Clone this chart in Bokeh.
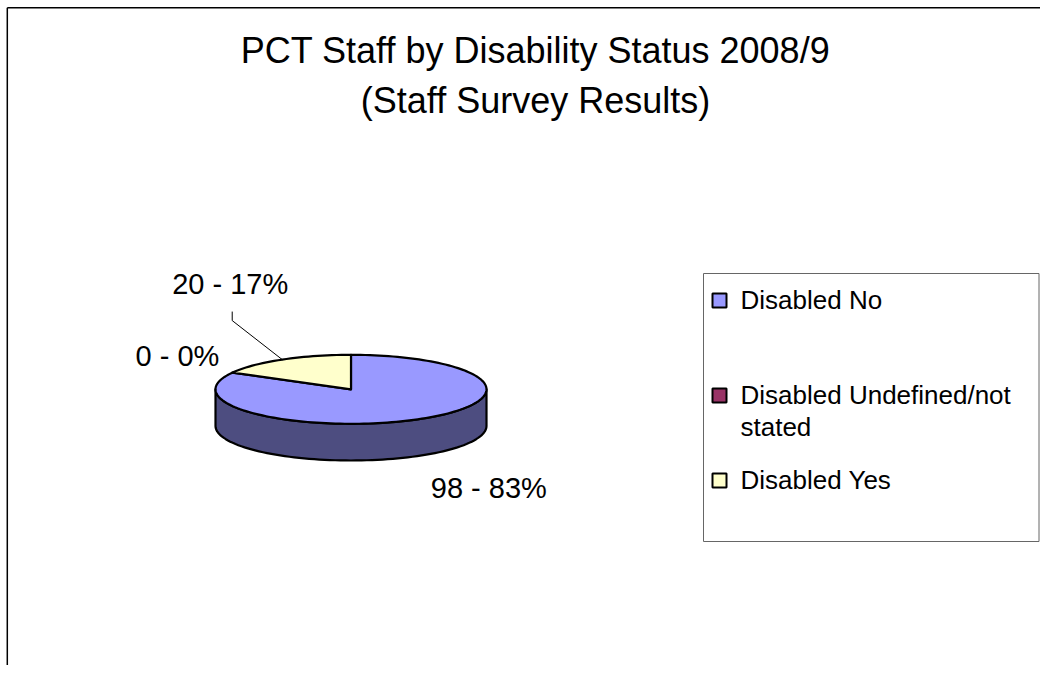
import math
import textwrap
from bokeh.plotting import figure
from bokeh.models import Range1d
from bokeh.core.properties import value
from bokeh.embed import file_html
from bokeh.resources import INLINE

# ---------------- data ----------------
categories = ["Disabled No", "Disabled Undefined/not stated", "Disabled Yes"]
values = [98, 0, 20]
title_lines = ["PCT Staff by Disability Status 2008/9", "(Staff Survey Results)"]

# ---------------- styles / layout ----------------
top_colors = ["#9999FF", "#993366", "#FFFFCC"]
side_colors = ["#4D4D80", "#4D1A33", "#808066"]
FONT = value("Liberation Sans")

W, H = 1040, 665
CX, CY = 350.5, 388.8      # pie centre (px)
RA, RB = 135.5, 34.5       # ellipse semi-axes
DEPTH = 36.7               # pie thickness
label_offsets = [(69, 69), (-55, -17), (-52, -76)]
leader = [False, False, True]
legend_y = [299, 394, 479]
LINE_GAP = 32

p = figure(width=W, height=H, x_range=Range1d(0, W), y_range=Range1d(H, 0),
           output_backend="svg", toolbar_location=None, min_border=0,
           x_axis_type=None, y_axis_type=None)
p.outline_line_color = None
p.background_fill_color = "white"
p.border_fill_color = "white"

# chart frame (top and left edges visible)
p.line([6.8, W], [7.2, 7.2], line_color="black", line_width=1.5)
p.line([6.8, 6.8], [7.2, H], line_color="black", line_width=1.5)


def pt(theta_deg, dy=0.0):
    t = math.radians(theta_deg)
    return CX + RA * math.cos(t), CY - RB * math.sin(t) + dy


# slice angles (clockwise from 12 o'clock, like Excel)
total = float(sum(values))
starts, ends = [], []
a = 90.0
for v in values:
    e = a - v / total * 360.0
    starts.append(a)
    ends.append(e)
    a = e

# side walls (visible front half: angles -180..0 modulo 360)
side_xs, side_ys, side_fc = [], [], []
for i, v in enumerate(values):
    if v <= 0:
        continue
    lo, hi = ends[i], starts[i]
    for k in (-720, -360, 0, 360):
        s_lo = max(lo + k, -180.0)
        s_hi = min(hi + k, 0.0)
        if s_hi - s_lo > 0.01:
            n = 80
            angs = [s_lo + (s_hi - s_lo) * j / n for j in range(n + 1)]
            top = [pt(t) for t in angs]
            bot = [pt(t, DEPTH) for t in reversed(angs)]
            pts = top + bot
            side_xs.append([q[0] for q in pts])
            side_ys.append([q[1] for q in pts])
            side_fc.append(side_colors[i])
p.patches(side_xs, side_ys, fill_color=side_fc, line_color="black", line_width=2.2,
          line_join="round")

# top faces
top_xs, top_ys, top_fc = [], [], []
for i, v in enumerate(values):
    if v <= 0:
        continue
    n = max(8, int(abs(starts[i] - ends[i]) / 2))
    angs = [ends[i] + (starts[i] - ends[i]) * j / n for j in range(n + 1)]
    pts = [(CX, CY)] + [pt(t) for t in angs]
    top_xs.append([q[0] for q in pts])
    top_ys.append([q[1] for q in pts])
    top_fc.append(top_colors[i])
p.patches(top_xs, top_ys, fill_color=top_fc, line_color="black", line_width=2.2,
          line_join="round")

# data labels
lx, ly, lt = [], [], []
for i, v in enumerate(values):
    mid = (starts[i] + ends[i]) / 2.0
    ax, ay = pt(mid)
    x = ax + label_offsets[i][0]
    y = ay + label_offsets[i][1]
    lx.append(x)
    ly.append(y)
    lt.append(f"{v} - {round(v / total * 100)}%")
    if leader[i]:
        p.line([ax, x + 2, x + 2], [ay, y + 37, y + 28], line_color="black", line_width=1)
p.text(lx, ly, text=lt, text_font=FONT, text_font_size="29px", text_color="black",
       text_align="center", text_baseline="middle")

# title
p.text([535, 535], [50, 100], text=title_lines, text_font=FONT, text_font_size="36px",
       text_color="black", text_align="center", text_baseline="middle")

# legend
p.quad(left=[703], right=[1038.5], top=[273], bottom=[541], fill_color="white",
       line_color="#666666", line_width=1)
p.rect([719] * len(categories), [y + 1 for y in legend_y], width=14, height=14,
       fill_color=top_colors, line_color="black", line_width=2)
tx, ty, tt = [], [], []
for i, c in enumerate(categories):
    for j, line in enumerate(textwrap.wrap(c, 22)):
        tx.append(740)
        ty.append(legend_y[i] + j * LINE_GAP)
        tt.append(line)
p.text(tx, ty, text=tt, text_font=FONT, text_font_size="26px", text_color="black",
       text_align="left", text_baseline="middle")

open("out.html", "w").write(file_html(p, INLINE))
